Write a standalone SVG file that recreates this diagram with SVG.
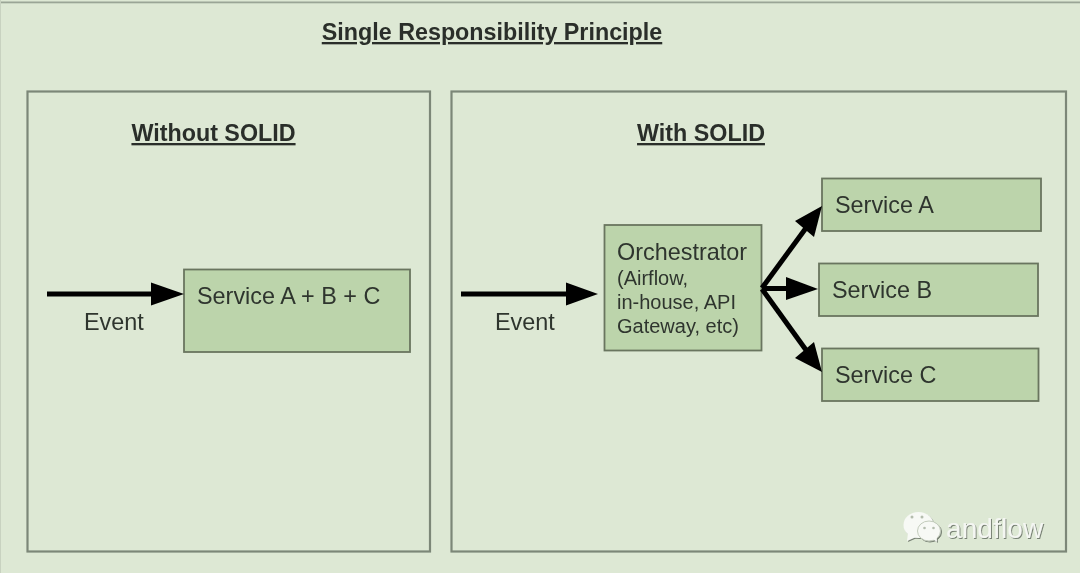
<svg xmlns="http://www.w3.org/2000/svg" width="1080" height="573" viewBox="0 0 1080 573">
<defs>
<style>
text{font-family:"Liberation Sans",Arial,sans-serif;fill:#2f352e}
.h{font-weight:bold;font-size:23.300px;text-decoration:underline;text-anchor:middle;fill:#2a2f29}
.l{font-size:23.400px}
.e{font-size:23.400px}
.s{font-size:20px}
.panel{fill:#dde8d4;stroke:#7c8778;stroke-width:2.200}
.box{fill:#bcd4ab;stroke:#69755f;stroke-width:1.800}
.c{stroke:#000;stroke-width:5;fill:none}
</style>
<filter id="soft" x="-5%" y="-5%" width="110%" height="110%"><feGaussianBlur stdDeviation="0.650"/></filter>
<filter id="sh" x="-10%" y="-20%" width="120%" height="140%"><feDropShadow dx="1" dy="1" stdDeviation="0.700" flood-color="#5f675b" flood-opacity="0.800"/></filter>
</defs>
<rect width="1080" height="573" fill="#dde8d4"/>
<g filter="url(#soft)">
<rect x="-5" y="1.500" width="1090" height="1.800" fill="#9aa596"/>
<rect x="-5" y="0" width="6" height="573" fill="#c8d2c0"/>
<text class="h" x="492" y="40">Single Responsibility Principle</text>
<g id="panel-without">
<rect class="panel" x="27.500" y="91.500" width="402.500" height="460"/>
<text class="h" x="213.500" y="141">Without SOLID</text>
</g>
<g id="panel-with">
<rect class="panel" x="451.500" y="91.500" width="614.500" height="460"/>
<text class="h" x="701" y="141">With SOLID</text>
</g>
<g id="service-abc">
<rect class="box" x="184" y="269.500" width="226" height="82.500"/>
<text class="l" x="197" y="304">Service A + B + C</text>
</g>
<g id="orchestrator">
<rect class="box" x="604.500" y="225" width="157" height="125.500"/>
<text class="l" x="617" y="260">Orchestrator</text>
<text class="s" x="617" y="285">(Airflow,</text>
<text class="s" x="617" y="309">in-house, API</text>
<text class="s" x="617" y="333">Gateway, etc)</text>
</g>
<g id="service-a">
<rect class="box" x="822" y="178.500" width="219" height="52.500"/>
<text class="l" x="835" y="213">Service A</text>
</g>
<g id="service-b">
<rect class="box" x="819" y="263.500" width="219" height="52.500"/>
<text class="l" x="832" y="298">Service B</text>
</g>
<g id="service-c">
<rect class="box" x="822" y="348.500" width="216.500" height="52.500"/>
<text class="l" x="835" y="383">Service C</text>
</g>
<g id="connectors">
<path class="c" d="M47 294H155"/>
<path d="M151 282.500L184 294L151 305.500Z"/>
<path class="c" d="M461 294H570"/>
<path d="M566 282.500L598 294L566 305.500Z"/>
<path class="c" d="M762 288L806 228"/>
<path d="M795 221L822 206L814 237Z"/>
<path class="c" d="M762 288.500H790"/>
<path d="M786 277L818 289L786 300Z"/>
<path class="c" d="M762 289L806 350"/>
<path d="M795 358L822 372L814 342Z"/>
</g>
<text class="e" x="84" y="329.500">Event</text>
<text class="e" x="495" y="329.500">Event</text>
</g>
<g id="watermark" filter="url(#sh)" fill="#f7f9f5">
<ellipse cx="918.500" cy="525" rx="15" ry="13"/>
<path d="M908 533L907 541L916 537Z"/>
<ellipse cx="929" cy="531" rx="11.500" ry="10" stroke="#c3ccbc" stroke-width="1"/>
<path d="M933 539L937 542L936.500 536Z"/>
<text x="946" y="538" style="font-size:28px;fill:#f4f6f2;letter-spacing:.1px">andflow</text>
</g>
<g fill="#b4bdad">
<circle cx="912" cy="517" r="1.500"/><circle cx="922" cy="517" r="1.500"/><circle cx="924.500" cy="528" r="1.300"/><circle cx="933.500" cy="528" r="1.300"/>
</g>
</svg>
